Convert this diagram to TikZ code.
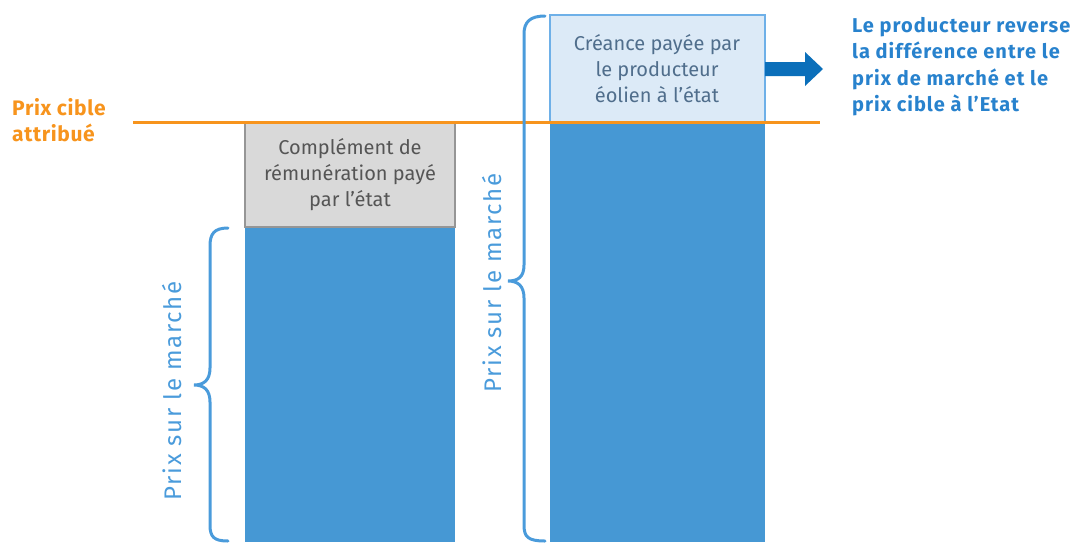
\documentclass[tikz,border=0pt]{standalone}
\usepackage{fontspec}
\setmainfont{Fira Sans}
\newfontfamily\sidefont[LetterSpace=7]{Fira Sans}
\newfontfamily\rfont[LetterSpace=5]{Fira Sans}
\newfontfamily\pfont[LetterSpace=3]{Fira Sans}
\definecolor{barblue}{RGB}{70,152,212}
\definecolor{lightbox}{RGB}{220,234,247}
\definecolor{lightborder}{RGB}{110,176,232}
\definecolor{graybox}{RGB}{217,217,217}
\definecolor{grayborder}{RGB}{150,150,150}
\definecolor{orangeline}{RGB}{247,148,29}
\definecolor{arrowblue}{RGB}{11,111,186}
\definecolor{textblue}{RGB}{40,130,205}
\definecolor{braceblue}{RGB}{74,155,219}
\definecolor{graytext}{RGB}{85,85,85}
\definecolor{boxtext}{RGB}{80,110,140}
\tikzset{
  bar/.style={fill=barblue, draw=none},
  boxlabel/.style={align=center, font=\fontsize{20}{26}\selectfont},
  bracestyle/.style={draw=braceblue, line width=3pt, line cap=round},
  sidelabel/.style={rotate=90, text=braceblue, font=\sidefont\fontsize{24}{28}\selectfont},
}
\begin{document}
\begin{tikzpicture}[x=1pt,y=-1pt]
\useasboundingbox (0,0) rectangle (1080,542);
% bars
\fill[bar] (245,227) rectangle (455,542);
\fill[bar] (550,122) rectangle (765,542);
% gray box
\node[draw=grayborder, fill=graybox, line width=1.2pt, minimum width=210pt, minimum height=105pt, anchor=north west, inner sep=0pt, outer sep=0pt] (gbox) at (245,122) {};
\node[boxlabel, text=graytext] (gtext) at (350,175) {Complément de\\rémunération payé\\par l’état};
% light blue box
\node[draw=lightborder, fill=lightbox, line width=1.2pt, minimum width=215pt, minimum height=107pt, anchor=north west, inner sep=0pt, outer sep=0pt] (lbox) at (550,15) {};
\node[boxlabel, text=boxtext] (ltext) at (657,69) {Créance payée par\\le producteur\\éolien à l’état};
% orange line
\coordinate (ostart) at (133,122);
\coordinate (oend) at (820,122);
\draw[orangeline, line width=3pt] (ostart) -- (oend);
\node[anchor=west, align=left, text=orangeline, font=\pfont\bfseries\fontsize{21}{26}\selectfont, inner sep=0pt] (prix) at (12,120) {Prix cible\\attribué};
% arrow
\fill[arrowblue] (765,62) -- (805,62) -- (805,52) -- (823,69) -- (805,86) -- (805,76) -- (765,76) -- cycle;
\node[anchor=north west, align=left, text=textblue, font=\rfont\bfseries\fontsize{20}{26.5}\selectfont, inner sep=0pt] (rtext) at (852,17) {Le producteur reverse\\la différence entre le\\prix de marché et le\\prix cible à l’Etat};
% left brace
\draw[bracestyle] (228,228) .. controls (214,228) and (210,234) .. (210,246) -- (210,368) .. controls (210,380) and (204,385) .. (194,385) .. controls (204,385) and (210,390) .. (210,402) -- (210,525) .. controls (210,537) and (214,541) .. (228,541);
\node[sidelabel] (lside) at (172,391) {Prix sur le marché};
% right brace
\draw[bracestyle] (545,16) .. controls (530,16) and (524,22) .. (524,34) -- (524,265) .. controls (524,277) and (518,281) .. (508,281) .. controls (518,281) and (524,286) .. (524,298) -- (524,525) .. controls (524,537) and (528,541) .. (545,541);
\node[sidelabel] (rside) at (492,283) {Prix sur le marché};
\end{tikzpicture}
\end{document}
